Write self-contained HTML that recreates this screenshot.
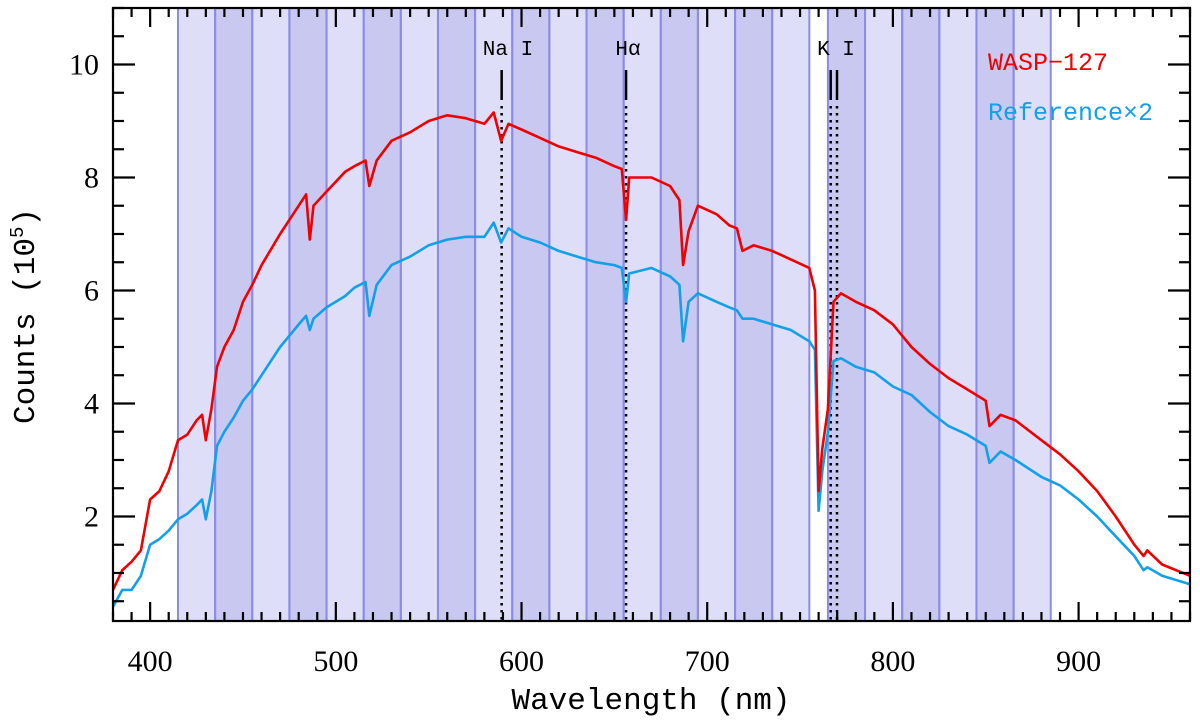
<!DOCTYPE html>
<html><head><meta charset="utf-8"><style>
html,body{margin:0;padding:0;background:#fff;width:1200px;height:720px;overflow:hidden}
text{font-family:"Liberation Serif",serif}
</style></head><body>
<svg id="chart" width="1200" height="720" xmlns="http://www.w3.org/2000/svg"></svg>
<script>
const wavelengths=[380,385,390,395,400,405,410,415,420,425,428,430,433,436,440,445,450,455,460,470,480,484,486,488,495,505,510,516,518,522,530,540,550,560,570,580,585,589,593,600,610,620,630,640,650,654,656.3,658,670,680,685,687,690,695,705,712,716,719,725,735,745,755,758,760,762,765,768,772,780,790,800,810,820,830,840,850,852,858,866,880,890,900,910,920,930,935,937,945,960];
const waspCounts=[0.7,1.05,1.2,1.4,2.3,2.45,2.8,3.35,3.45,3.7,3.8,3.35,3.9,4.65,5.0,5.3,5.8,6.1,6.45,7.0,7.5,7.7,6.9,7.5,7.75,8.1,8.2,8.3,7.85,8.3,8.65,8.8,9.0,9.1,9.05,8.95,9.15,8.65,8.95,8.85,8.7,8.55,8.45,8.35,8.2,8.15,7.25,8.0,8.0,7.85,7.6,6.45,7.05,7.5,7.35,7.15,7.1,6.7,6.8,6.7,6.55,6.4,6.0,2.45,3.2,3.9,5.8,5.95,5.8,5.65,5.4,5.0,4.7,4.45,4.25,4.05,3.6,3.8,3.7,3.35,3.1,2.8,2.45,2.0,1.5,1.3,1.4,1.15,0.95];
const refCounts=[0.4,0.7,0.7,0.95,1.5,1.6,1.75,1.95,2.05,2.2,2.3,1.95,2.45,3.25,3.5,3.75,4.05,4.25,4.5,5.0,5.4,5.55,5.3,5.5,5.7,5.9,6.05,6.15,5.55,6.1,6.45,6.6,6.8,6.9,6.95,6.95,7.2,6.85,7.1,6.95,6.85,6.7,6.6,6.5,6.45,6.4,5.8,6.3,6.4,6.25,6.1,5.1,5.8,5.95,5.8,5.7,5.65,5.5,5.5,5.4,5.3,5.1,4.95,2.1,2.8,3.5,4.75,4.8,4.65,4.55,4.3,4.15,3.85,3.6,3.45,3.25,2.95,3.15,3.0,2.7,2.55,2.3,2.0,1.65,1.3,1.05,1.1,0.95,0.8];
const bandStarts=[415,435,455,475,495,515,535,555,575,595,615,635,655,675,695,715,735,765,785,805,825,845,865];
const bandDark=[0,1,0,1,0,1,0,1,0,1,0,1,0,1,0,1,0,1,0,1,0,1,0];
const bandWidth=20;
const lineNames=["na-i","h-alpha","k-i-a","k-i-b"];
const lineWaves=[589.3,656.3,766.5,769.9];
const xTicks=[400,500,600,700,800,900];
const yTicks=[2,4,6,8,10];

const L=113,R=1190,T=8,B=621,X0=380,X1=960,Y0=0.15,Y1=11;
const sx=v=>L+(v-X0)/(X1-X0)*(R-L);
const sy=v=>B-(v-Y0)/(Y1-Y0)*(B-T);
const svg=document.getElementById('chart');
const NS='http://www.w3.org/2000/svg';
function mk(tag,attrs,parent){const e=document.createElementNS(NS,tag);for(const k in attrs)e.setAttribute(k,attrs[k]);(parent||svg).appendChild(e);return e;}

const bands=mk('g',{});


bandStarts.forEach((s,i)=>{
  const r=mk('rect',{x:sx(s),y:T,width:sx(s+bandWidth)-sx(s),height:B-T,fill:bandDark[i]?'#c8c8f0':'#dedef8'},bands);
  
  
});
bandStarts.forEach(s=>{
  [s,s+bandWidth].forEach(v=>{
    const l=mk('line',{x1:sx(v),x2:sx(v),y1:T,y2:B,stroke:'#8c8ce6','stroke-width':2},bands);
    
    
  });
});

lineWaves.forEach((w,i)=>{
  const g=mk('g',{});
  
  
  mk('line',{x1:sx(w),x2:sx(w),y1:70,y2:100,stroke:'#000','stroke-width':2.5},g);
  mk('line',{x1:sx(w),x2:sx(w),y1:106,y2:B,stroke:'#000','stroke-width':2.5,'stroke-dasharray':'2.5 4.5'},g);
});

function path(vals,color,name){
  const d=wavelengths.map((w,i)=>(i?'L':'M')+sx(w).toFixed(1)+','+sy(vals[i]).toFixed(1)).join('');
  const p=mk('path',{d:d,fill:'none',stroke:color,'stroke-width':2.6,'stroke-linejoin':'round'});
  
  
}
path(refCounts,'#12a0e8','reference-series');
path(waspCounts,'#f00000','wasp-127-series');

const ax=mk('g',{stroke:'#000','stroke-width':2.2});


mk('rect',{x:L,y:T,width:R-L,height:B-T,fill:'none'},ax);
for(let v=X0;v<=X1;v+=10){
  const len=(v%100===0)?19:9;
  mk('line',{x1:sx(v),x2:sx(v),y1:B,y2:B-len},ax);
  mk('line',{x1:sx(v),x2:sx(v),y1:T,y2:T+len},ax);
}
for(let v=0.5;v<=Y1;v+=0.5){
  const len=(v%2===0)?22:11;
  mk('line',{x1:L,x2:L+len,y1:sy(v),y2:sy(v)},ax);
  mk('line',{x1:R,x2:R-len,y1:sy(v),y2:sy(v)},ax);
}
xTicks.forEach(v=>{
  const t=mk('text',{x:sx(v),y:671,'text-anchor':'middle','font-size':30});
  t.textContent=v;
  
  
});
yTicks.forEach(v=>{
  const t=mk('text',{x:99,y:sy(v)+10,'text-anchor':'end','font-size':30});
  t.textContent=v;
  
  
});
</script>
<svg width="1200" height="720" style="position:absolute;left:0;top:0" xmlns="http://www.w3.org/2000/svg">
<text x="651" y="709" text-anchor="middle" font-size="31" style="font-family:'Liberation Mono',monospace">Wavelength (nm)</text>
<text transform="translate(34,316) rotate(-90)" text-anchor="middle" font-size="31" style="font-family:'Liberation Mono',monospace">Counts (10<tspan baseline-shift="super" font-size="19">5</tspan>)</text>
<text x="508" y="55" text-anchor="middle" font-size="21" style="font-family:'Liberation Mono',monospace">Na I</text>
<text x="628" y="55" text-anchor="middle" font-size="21" style="font-family:'Liberation Mono',monospace">Hα</text>
<text x="836" y="55" text-anchor="middle" font-size="21" style="font-family:'Liberation Mono',monospace">K I</text>
<text x="988" y="70" font-size="25" fill="#f00000" style="font-family:'Liberation Mono',monospace">WASP−127</text>
<text x="988" y="120" font-size="25" fill="#12a0e8" style="font-family:'Liberation Mono',monospace">Reference×2</text>
</svg>
</body></html>
